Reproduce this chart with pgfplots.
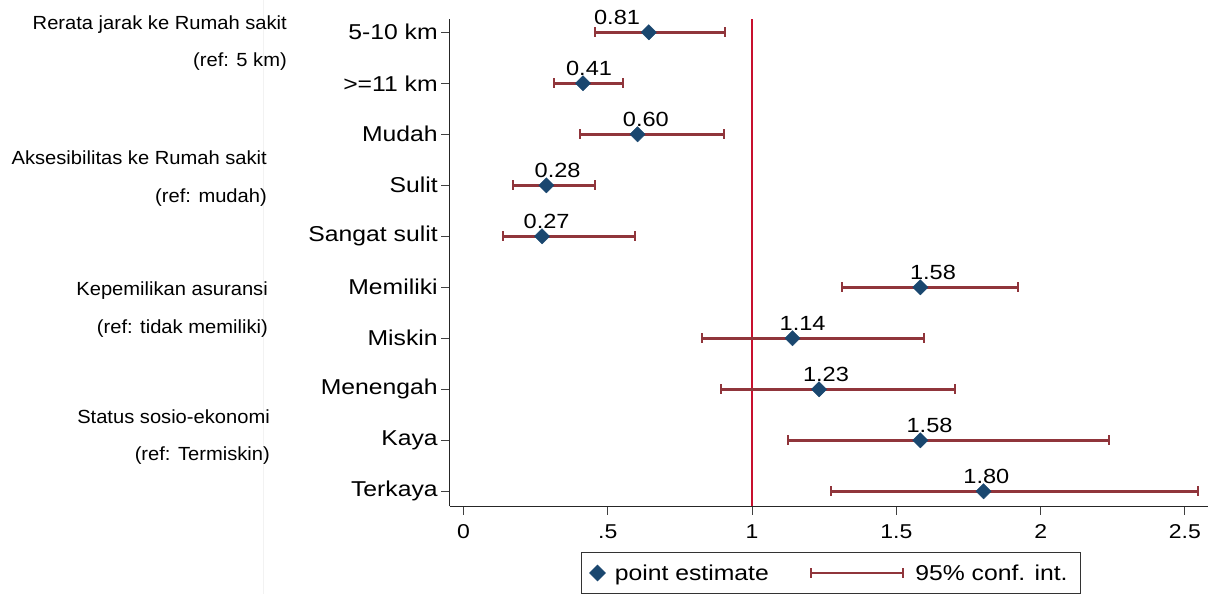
\documentclass[border=0pt]{standalone}
\usepackage{fontspec}
\setmainfont{Liberation Sans}[FakeStretch=1.15]
\newfontfamily\grpfont{Liberation Sans}[FakeStretch=1.06]
\usepackage{pgfplots}
\usepackage{pgfplotstable}
\pgfplotsset{compat=1.18}
\definecolor{est}{RGB}{26,71,111}
\definecolor{ci}{RGB}{144,53,59}
\definecolor{refl}{RGB}{200,16,46}

\pgfplotstableread{
y est
0 0.642
-1 0.414
-2 0.603
-3 0.287
-4 0.272
-5 1.583
-6 1.140
-7 1.232
-8 1.583
-9 1.802
}\coef

\pgfplotstableread{
lx ly lab
0.532 0.157 0.81
0.435 -0.843 0.41
0.632 -1.843 0.60
0.326 -2.843 0.28
0.288 -3.843 0.27
1.627 -4.843 1.58
1.175 -5.843 1.14
1.256 -6.843 1.23
1.615 -7.843 1.58
1.812 -8.843 1.80
}\labs

\begin{document}
\begin{tikzpicture}
\useasboundingbox (0,0) rectangle (1222pt,594pt);
\draw[black!5, line width=1pt] (263pt,0pt) -- (263pt,594pt);
\begin{axis}[
  at={(449.7pt,88pt)}, anchor=south west,
  scale only axis, width=758.3pt, height=487pt,
  xmin=-0.048, xmax=2.580, ymin=-9.288, ymax=0.261,
  axis lines=left, axis line style={-, black!85, line width=1pt},
  xtick={0,0.5,1,1.5,2,2.5}, xticklabels={0,.5,1,1.5,2,2.5},
  ytick={-9,-8,-7,-6,-5,-4,-3,-2,-1,0},
  yticklabels={Terkaya,Kaya,Menengah,Miskin,Memiliki,Sangat sulit,Sulit,Mudah,>=11 km,5-10 km},
  tick align=outside, major tick length=8.5pt,
  tick style={black!75, line width=1pt},
  yticklabel style={font=\fontsize{21.5}{25}\selectfont},
  xticklabel style={font=\fontsize{20}{24}\selectfont, yshift=-7pt},
  clip=false,
  legend columns=2,
  legend style={at={(0.503,-0.0945)}, anchor=north, draw=black!80, line width=0.8pt,
    font=\fontsize{21.5}{25}\selectfont, inner xsep=8pt, inner ysep=6pt,
    nodes={inner xsep=5pt, inner ysep=6pt},
    /tikz/every even column/.append style={column sep=36pt},
    cells={anchor=west}},
]
\addlegendimage{legend image code/.code={\path (0pt,0pt) (19pt,0pt);
    \draw[est, fill=est, mark=square*, mark size=5.5pt, mark options={rotate=45}] plot coordinates {(7pt,0pt)};}}
\addlegendimage{legend image code/.code={\path (0pt,0pt) (99pt,0pt);
    \draw[ci, line width=2.3pt] (0pt,0pt) -- (92pt,0pt);
    \draw[ci, line width=2pt] (0pt,-5pt) -- (0pt,5pt) (92pt,-5pt) -- (92pt,5pt);}}

\addplot[refl, line width=2pt, forget plot] coordinates {(1,-9.288) (1,0.261)};

\addplot[ci, line width=2.4pt, unbounded coords=jump, mark=|, mark size=5pt,
  mark options={line width=2pt, solid}, forget plot]
 coordinates {
 (0.457,0) (0.905,0) (nan,nan)
 (0.314,-1) (0.554,-1) (nan,nan)
 (0.404,-2) (0.903,-2) (nan,nan)
 (0.172,-3) (0.457,-3) (nan,nan)
 (0.136,-4) (0.595,-4) (nan,nan)
 (1.310,-5) (1.923,-5) (nan,nan)
 (0.825,-6) (1.594,-6) (nan,nan)
 (0.892,-7) (1.703,-7) (nan,nan)
 (1.125,-8) (2.236,-8) (nan,nan)
 (1.272,-9) (2.544,-9)
 };

\addplot[only marks, mark=square*, mark size=5.4pt, forget plot,
  mark options={rotate=45, fill=est, draw=est}]
  table[x=est, y=y] {\coef};

\addplot[only marks, mark=none, forget plot, nodes near coords,
  point meta=explicit symbolic,
  every node near coord/.append style={anchor=base, inner sep=0pt,
    font=\fontsize{20.5}{24}\selectfont, text=black}]
  table[x=lx, y=ly, meta=lab] {\labs};

\legend{point estimate, 95\% conf. int.}
\end{axis}

\begin{scope}[every node/.style={anchor=base east, inner sep=0pt,
    font=\grpfont\fontsize{19}{23}\selectfont}]
\node at (287pt,564.6pt) {Rerata jarak ke Rumah sakit};
\node at (287pt,527.3pt) {(ref: 5 km)};
\node at (267pt,429.3pt) {Aksesibilitas ke Rumah sakit};
\node at (267pt,391.3pt) {(ref: mudah)};
\node at (268pt,298.3pt) {Kepemilikan asuransi};
\node at (268pt,260.3pt) {(ref: tidak memiliki)};
\node at (270pt,170.3pt) {Status sosio-ekonomi};
\node at (270pt,133.3pt) {(ref: Termiskin)};
\end{scope}
\end{tikzpicture}
\end{document}
